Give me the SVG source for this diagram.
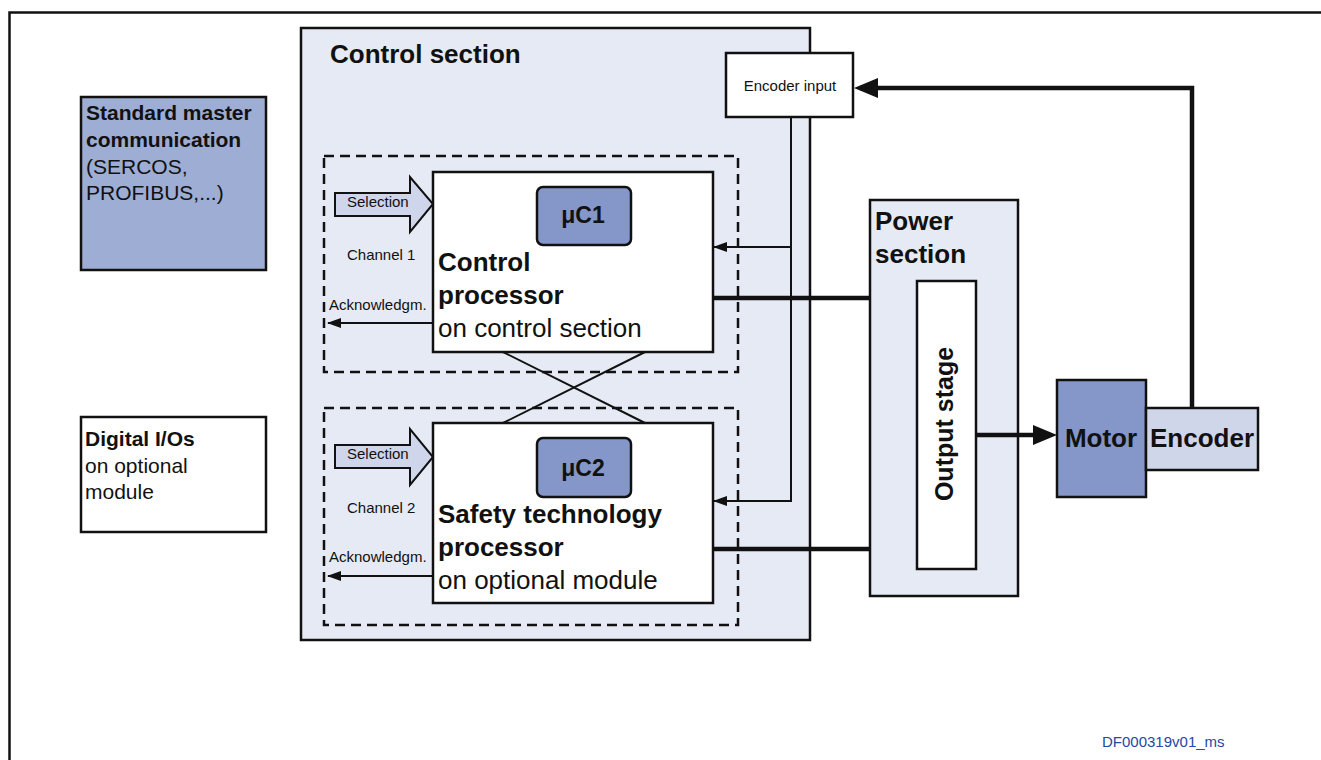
<svg xmlns="http://www.w3.org/2000/svg" width="1321" height="760" viewBox="0 0 1321 760">
<defs>
<style>
.box{stroke:#111;stroke-width:2.5}
.light{fill:#e6eaf4}
.white{fill:#fff}
.blue{fill:#8497c8}
.dash{fill:none;stroke:#111;stroke-width:2.5;stroke-dasharray:10 6}
.thin{fill:none;stroke:#111;stroke-width:2}
.thick{fill:none;stroke:#111;stroke-width:4.5}
.t{font-family:"Liberation Sans",Arial,sans-serif;fill:#111}
.b{font-weight:bold}
.s{font-size:15px}
.m{font-size:21px}
.l{font-size:26px}
</style>
<marker id="ah" markerWidth="14" markerHeight="10" refX="13" refY="5" orient="auto" markerUnits="userSpaceOnUse">
<path d="M0,0 L14,5 L0,10 Z" fill="#111"/>
</marker>
<marker id="ahb" markerWidth="24" markerHeight="20" refX="23" refY="10" orient="auto" markerUnits="userSpaceOnUse">
<path d="M0,0 L24,10 L0,20 Z" fill="#111"/>
</marker>
</defs>
<rect width="1321" height="760" fill="#fff"/>
<path d="M9.5,760 V12.5 H1321" fill="none" stroke="#111" stroke-width="2.5"/>

<g id="standard-master">
<rect class="box" x="81" y="97" width="185" height="173" fill="#9eadd4"/>
<text class="t b m" x="86" y="120">Standard master</text>
<text class="t b m" x="86" y="147">communication</text>
<text class="t m" x="86" y="174">(SERCOS,</text>
<text class="t m" x="86" y="200">PROFIBUS,...)</text>
</g>

<g id="digital-ios">
<rect class="box white" x="81" y="417" width="185" height="115"/>
<text class="t b m" x="85" y="446">Digital I/Os</text>
<text class="t m" x="85" y="473">on optional</text>
<text class="t m" x="85" y="499">module</text>
</g>

<g id="control-section">
<rect class="box light" x="301" y="28" width="509" height="612"/>
<text class="t b l" x="330" y="63">Control section</text>
</g>

<g id="channel1">
<rect class="dash" x="324" y="156" width="414" height="216"/>
<path d="M335,193 H410 V177 L433,204 L410,232 V216 H335 Z" fill="#cfd5ea" stroke="#111" stroke-width="2"/>
<text class="t s" x="347" y="207">Selection</text>
<text class="t s" x="347" y="260">Channel 1</text>
<text class="t s" x="329" y="310">Acknowledgm.</text>
</g>

<g id="channel2">
<rect class="dash" x="324" y="408" width="414" height="217"/>
<path d="M335,445 H410 V429 L433,457 L410,485 V468 H335 Z" fill="#cfd5ea" stroke="#111" stroke-width="2"/>
<text class="t s" x="347" y="459">Selection</text>
<text class="t s" x="347" y="513">Channel 2</text>
<text class="t s" x="329" y="562">Acknowledgm.</text>
</g>

<g id="encoder-input">
<rect class="box white" x="726" y="53" width="127" height="64"/>
<text class="t s" x="790" y="91" text-anchor="middle">Encoder input</text>
</g>

<g id="control-processor">
<rect class="box white" x="433" y="172" width="280" height="180"/>
<rect class="box blue" x="537" y="187" width="94" height="58" rx="6"/>
<text class="t b" x="583" y="223" font-size="23" text-anchor="middle">μC1</text>
<text class="t b l" x="438" y="271">Control</text>
<text class="t b l" x="438" y="304">processor</text>
<text class="t l" x="438" y="337">on control section</text>
</g>

<g id="safety-processor">
<rect class="box white" x="433" y="423" width="280" height="180"/>
<rect class="box blue" x="537" y="438" width="94" height="59" rx="6"/>
<text class="t b" x="583" y="476" font-size="23" text-anchor="middle">μC2</text>
<text class="t b l" x="438" y="523">Safety technology</text>
<text class="t b l" x="438" y="556">processor</text>
<text class="t l" x="438" y="589">on optional module</text>
</g>

<g id="power-section">
<rect class="box light" x="870" y="200" width="148" height="396"/>
<text class="t b l" x="875" y="230">Power</text>
<text class="t b l" x="875" y="263">section</text>
</g>

<g id="output-stage">
<rect class="box white" x="917" y="281" width="59" height="288"/>
<text class="t b" font-size="25" x="0" y="0" text-anchor="middle" transform="translate(953,424) rotate(-90)">Output stage</text>
</g>

<g id="motor">
<rect class="box blue" x="1057" y="380" width="89" height="117"/>
<text class="t b l" x="1101" y="447" text-anchor="middle">Motor</text>
</g>

<g id="encoder">
<rect class="box" x="1146" y="408" width="112" height="62" fill="#d0d6ea"/>
<text class="t b l" x="1202" y="447" text-anchor="middle">Encoder</text>
</g>

<g id="connectors">
<line class="thin" x1="503" y1="352" x2="645" y2="423"/>
<line class="thin" x1="645" y1="352" x2="503" y2="423"/>
<line class="thin" x1="432" y1="323" x2="328" y2="323" marker-end="url(#ah)"/>
<line class="thin" x1="432" y1="576" x2="328" y2="576" marker-end="url(#ah)"/>
<path class="thin" d="M791,118 V501 H714" marker-end="url(#ah)"/>
<path class="thin" d="M791,247 H714" marker-end="url(#ah)"/>
<line class="thick" x1="714" y1="298" x2="870" y2="298"/>
<line class="thick" x1="714" y1="549" x2="870" y2="549"/>
<line class="thick" x1="977" y1="435" x2="1050" y2="435"/>
<path d="M1033,425 L1057,435 L1033,445 Z" fill="#111"/>
<path class="thick" d="M1192,407 V88 H860"/>
<path d="M878,78 L854,88 L878,98 Z" fill="#111"/>
</g>

<text class="t s" x="1102" y="747" style="fill:#2547a6">DF000319v01_ms</text>
</svg>
